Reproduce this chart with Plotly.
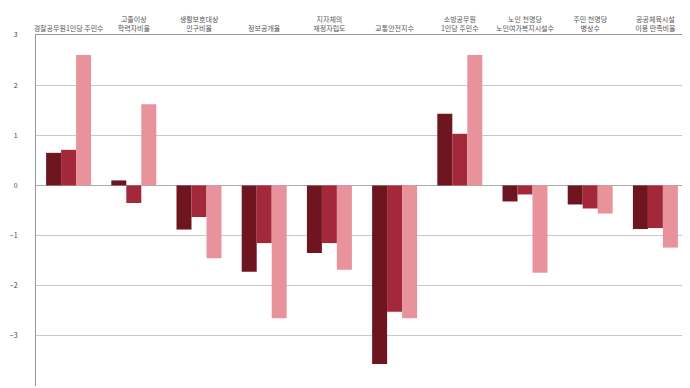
import plotly.graph_objects as go

categories = [
    "경찰공무원1인당 주민수",
    "고졸이상<br>학력자비율",
    "생활보호대상<br>인구비율",
    "정보공개율",
    "지자체의<br>재정자립도",
    "교통안전지수",
    "소방공무원<br>1인당 주민수",
    "노인 천명당<br>노인여가복지시설수",
    "주민 천명당<br>병상수",
    "공공체육시설<br>이용 만족비율",
]
series1 = [0.65, 0.10, -0.88, -1.72, -1.35, -3.56, 1.43, -0.32, -0.38, -0.87]
series2 = [0.71, -0.35, -0.63, -1.15, -1.15, -2.52, 1.03, -0.18, -0.46, -0.85]
series3 = [2.60, 1.62, -1.45, -2.65, -1.68, -2.65, 2.60, -1.74, -0.56, -1.24]
colors = ["#6e1620", "#a3293a", "#e8939b"]
tick_vals = [3, 2, 1, 0, -1, -2, -3, -4]

fig = go.Figure()
for vals, c, name in zip([series1, series2, series3], colors, ["A", "B", "C"]):
    fig.add_trace(go.Bar(x=categories, y=vals, marker=dict(color=c, line=dict(width=0)), name=name))

fig.update_layout(
    width=682, height=380,
    margin=dict(l=28, r=2, t=27, b=2),
    barmode="group", bargap=0.31, bargroupgap=0,
    showlegend=False,
    plot_bgcolor="white", paper_bgcolor="white",
    font=dict(family="Noto Sans CJK KR", size=7, color="#555"),
)
fig.update_xaxes(side="top", showline=True, linecolor="#999", linewidth=1, automargin=False,
                 ticks="", tickfont=dict(size=7, color="#555"), showgrid=False)
fig.update_yaxes(range=[-4, 3], tickvals=tick_vals, showgrid=True, gridcolor="#c8c8c8",
                 automargin=False, ticklabelstandoff=16,
                 showline=True, linecolor="#999", zeroline=True, zerolinecolor="#aaa",
                 zerolinewidth=1, tickfont=dict(size=7, color="#444"), ticks="")

fig.write_html("out.html")
